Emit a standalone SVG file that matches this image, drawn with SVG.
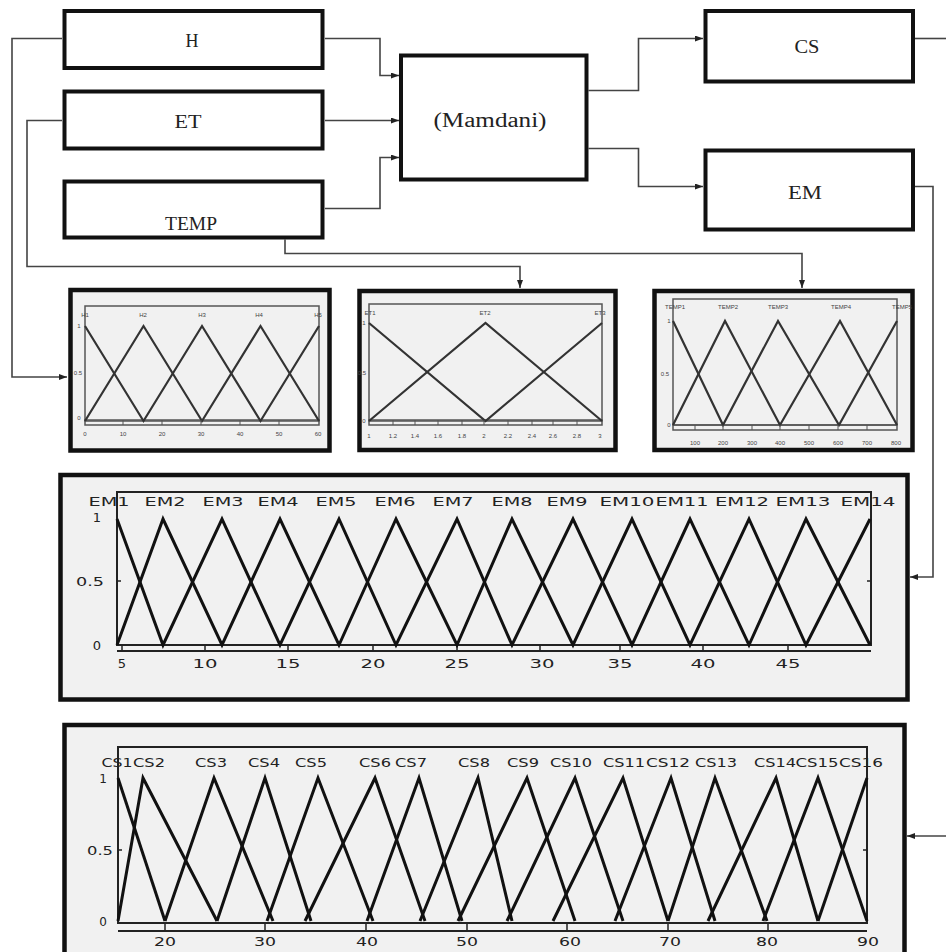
<svg xmlns="http://www.w3.org/2000/svg" width="946" height="952" viewBox="0 0 946 952">
<style>
.box{fill:#fff;stroke:#111;stroke-width:4}
.frame{fill:#f1f1f1;stroke:#111;stroke-width:4.5}
.lbl{font-family:"Liberation Serif",serif;font-size:18px;fill:#222;text-anchor:middle}
.con{fill:none;stroke:#444;stroke-width:1.6}
.plot{fill:none;stroke:#555;stroke-width:1.5}
.plotb{fill:none;stroke:#222;stroke-width:2}
.mf{fill:none;stroke:#333;stroke-width:2.2;stroke-linejoin:miter}
.mfb{fill:none;stroke:#111;stroke-width:3}
.t6{font-family:"Liberation Sans",sans-serif;font-size:6px;fill:#444;text-anchor:middle}
.tk{fill:none;stroke:#555;stroke-width:1}
.tkb{fill:none;stroke:#222;stroke-width:1.5}
.t13{font-family:"DejaVu Sans",sans-serif;font-size:13px;fill:#222;text-anchor:middle}
.t12{font-family:"DejaVu Sans",sans-serif;font-size:12px;fill:#222;text-anchor:middle}
</style>
<defs>
<marker id="arr" markerUnits="userSpaceOnUse" markerWidth="8" markerHeight="6" refX="8" refY="3" orient="auto">
<path d="M0,0 L8,3 L0,6 z" fill="#222"/>
</marker>
</defs>
<rect width="946" height="952" fill="#fff"/>

<g id="connectors">
<path class="con" d="M325,38.5 H380 V75.5 H399" marker-end="url(#arr)"/>
<path class="con" d="M325,120.5 H399" marker-end="url(#arr)"/>
<path class="con" d="M325,208.5 H380 V157.5 H399" marker-end="url(#arr)"/>
<path class="con" d="M588.5,90.5 H638.5 V38.5 H703" marker-end="url(#arr)"/>
<path class="con" d="M588.5,148.5 H638.5 V186.5 H703" marker-end="url(#arr)"/>
<path class="con" d="M915,186.5 H933 V577 H910" marker-end="url(#arr)"/>
<path class="con" d="M915,38.5 H946"/>
<path class="con" d="M946,836 H907" marker-end="url(#arr)"/>
<path class="con" d="M62,38.5 H12 V377 H67" marker-end="url(#arr)"/>
<path class="con" d="M62,120.5 H27 V266.5 H520 V288" marker-end="url(#arr)"/>
<path class="con" d="M285,239.5 V253.5 H802 V288" marker-end="url(#arr)"/>
</g>

<g id="node-H">
<rect class="box" x="64.5" y="11" width="258" height="57"/>
<text class="lbl" x="192" y="47">H</text>
</g>
<g id="node-ET">
<rect class="box" x="64.5" y="91.5" width="258" height="57"/>
<text class="lbl" x="188" y="128" textLength="27" lengthAdjust="spacingAndGlyphs">ET</text>
</g>
<g id="node-TEMP">
<rect class="box" x="64.5" y="181.5" width="258" height="56"/>
<text class="lbl" x="191" y="230" textLength="52" lengthAdjust="spacingAndGlyphs">TEMP</text>
</g>
<g id="node-Mamdani">
<rect class="box" x="401" y="55.5" width="185.5" height="124"/>
<text class="lbl" x="490" y="127" style="font-size:20px" textLength="113" lengthAdjust="spacingAndGlyphs">(Mamdani)</text>
</g>
<g id="node-CS">
<rect class="box" x="705.5" y="11" width="207.5" height="70.5"/>
<text class="lbl" x="807" y="53" textLength="25" lengthAdjust="spacingAndGlyphs">CS</text>
</g>
<g id="node-EM">
<rect class="box" x="705.5" y="150.5" width="207.5" height="79"/>
<text class="lbl" x="805" y="199" textLength="34" lengthAdjust="spacingAndGlyphs">EM</text>
</g>

<g id="chart-H">
<rect class="frame" x="70.5" y="290" width="259" height="160.5"/>
<rect class="plot" x="85" y="306" width="234" height="115"/>
<rect class="plot" x="85" y="420" width="234" height="5"/>
<polyline class="mf" points="85,326 143.5,421 202,326 260.5,421 319,326"/>
<polyline class="mf" points="85,421 143.5,326 202,421 260.5,326 319,421"/>
<path class="tk" d="M123,420v5M162,420v5M201,420v5M240,420v5M279,420v5"/>
<text class="t6" x="85" y="317">H1</text>
<text class="t6" x="143" y="317">H2</text>
<text class="t6" x="202" y="317">H3</text>
<text class="t6" x="259" y="317">H4</text>
<text class="t6" x="318" y="317">H5</text>
<text class="t6" x="79" y="328">1</text>
<text class="t6" x="78" y="375">0.5</text>
<text class="t6" x="79" y="420">0</text>
<text class="t6" x="85" y="436">0</text>
<text class="t6" x="123" y="436">10</text>
<text class="t6" x="162" y="436">20</text>
<text class="t6" x="201" y="436">30</text>
<text class="t6" x="240" y="436">40</text>
<text class="t6" x="279" y="436">50</text>
<text class="t6" x="318" y="436">60</text>
</g>

<g id="chart-ET">
<rect class="frame" x="359.5" y="291" width="256" height="159"/>
<rect class="plot" x="369" y="304" width="233" height="117"/>
<rect class="plot" x="369" y="420" width="233" height="5"/>
<polyline class="mf" points="369,323 485.5,421 602,323"/>
<polyline class="mf" points="369,421 485.5,323 602,421"/>
<path class="tk" d="M393,420v5M415,420v5M438,420v5M462,420v5M484,420v5M508,420v5M532,420v5M553,420v5M577,420v5"/>
<text class="t6" x="370" y="315">ET1</text>
<text class="t6" x="485" y="315">ET2</text>
<text class="t6" x="600" y="315">ET3</text>
<text class="t6" x="364" y="325">1</text>
<text class="t6" x="362" y="375">0.5</text>
<text class="t6" x="364" y="423">0</text>
<text class="t6" x="369" y="438">1</text>
<text class="t6" x="393" y="438">1.2</text>
<text class="t6" x="415" y="438">1.4</text>
<text class="t6" x="438" y="438">1.6</text>
<text class="t6" x="462" y="438">1.8</text>
<text class="t6" x="484" y="438">2</text>
<text class="t6" x="508" y="438">2.2</text>
<text class="t6" x="532" y="438">2.4</text>
<text class="t6" x="553" y="438">2.6</text>
<text class="t6" x="577" y="438">2.8</text>
<text class="t6" x="600" y="438">3</text>
</g>

<g id="chart-TEMP">
<rect class="frame" x="654.5" y="291" width="258" height="159"/>
<rect class="plot" x="673" y="299" width="224" height="126"/>
<rect class="plot" x="673" y="425" width="224" height="5"/>
<polyline class="mf" points="673,321 723,425 778,321 839,425 897,321"/>
<polyline class="mf" points="673,425 725,321 780,425 840,321 897,425"/>
<path class="tk" d="M695,425v5M723,425v5M752,425v5M780,425v5M809,425v5M838,425v5M867,425v5"/>
<text class="t6" x="675" y="309">TEMP1</text>
<text class="t6" x="728" y="309">TEMP2</text>
<text class="t6" x="778" y="309">TEMP3</text>
<text class="t6" x="841" y="309">TEMP4</text>
<text class="t6" x="902" y="309">TEMP5</text>
<text class="t6" x="669" y="323">1</text>
<text class="t6" x="665" y="376">0.5</text>
<text class="t6" x="669" y="427">0</text>
<text class="t6" x="695" y="445">100</text>
<text class="t6" x="723" y="445">200</text>
<text class="t6" x="752" y="445">300</text>
<text class="t6" x="780" y="445">400</text>
<text class="t6" x="809" y="445">500</text>
<text class="t6" x="838" y="445">600</text>
<text class="t6" x="867" y="445">700</text>
<text class="t6" x="896" y="445">800</text>
</g>

<g id="chart-EM">
<rect class="frame" x="60.5" y="475" width="847" height="224.5"/>
<rect class="plotb" x="117" y="492" width="754" height="153"/>
<line class="plotb" x1="117" y1="651" x2="871" y2="651"/>
<path class="tkb" d="M122,645v6M205,645v6M288,645v6M373,645v6M457,645v6M540,645v6M620,645v6M703,645v6M788,645v6M117,581h4M871,581h-4"/>
<polyline class="mfb" points="117,519 163,645 222,519 280,645 339,519 396,645 457,519 512,645 573,519 632,645 690,519 749,645 806,519 870,645"/>
<polyline class="mfb" points="117,645 163,519 222,645 280,519 339,645 396,519 457,645 512,519 573,645 632,519 690,645 749,519 806,645 870,519"/>
<text class="t13" x="109" y="506" textLength="41" lengthAdjust="spacingAndGlyphs">EM1</text>
<text class="t13" x="165" y="506" textLength="41" lengthAdjust="spacingAndGlyphs">EM2</text>
<text class="t13" x="223" y="506" textLength="41" lengthAdjust="spacingAndGlyphs">EM3</text>
<text class="t13" x="278" y="506" textLength="41" lengthAdjust="spacingAndGlyphs">EM4</text>
<text class="t13" x="336" y="506" textLength="41" lengthAdjust="spacingAndGlyphs">EM5</text>
<text class="t13" x="395" y="506" textLength="41" lengthAdjust="spacingAndGlyphs">EM6</text>
<text class="t13" x="453" y="506" textLength="41" lengthAdjust="spacingAndGlyphs">EM7</text>
<text class="t13" x="512" y="506" textLength="41" lengthAdjust="spacingAndGlyphs">EM8</text>
<text class="t13" x="567" y="506" textLength="41" lengthAdjust="spacingAndGlyphs">EM9</text>
<text class="t13" x="627" y="506" textLength="55" lengthAdjust="spacingAndGlyphs">EM10</text>
<text class="t13" x="682" y="506" textLength="53" lengthAdjust="spacingAndGlyphs">EM11</text>
<text class="t13" x="742" y="506" textLength="54" lengthAdjust="spacingAndGlyphs">EM12</text>
<text class="t13" x="803" y="506" textLength="55" lengthAdjust="spacingAndGlyphs">EM13</text>
<text class="t13" x="868" y="506" textLength="55" lengthAdjust="spacingAndGlyphs">EM14</text>
<text class="t13" x="97" y="522">1</text>
<text class="t13" x="90" y="586" textLength="28" lengthAdjust="spacingAndGlyphs">0.5</text>
<text class="t13" x="97" y="650">0</text>
<text class="t13" x="122" y="668">5</text>
<text class="t13" x="205" y="668" textLength="25" lengthAdjust="spacingAndGlyphs">10</text>
<text class="t13" x="288" y="668" textLength="25" lengthAdjust="spacingAndGlyphs">15</text>
<text class="t13" x="373" y="668" textLength="25" lengthAdjust="spacingAndGlyphs">20</text>
<text class="t13" x="457" y="668" textLength="25" lengthAdjust="spacingAndGlyphs">25</text>
<text class="t13" x="542" y="668" textLength="25" lengthAdjust="spacingAndGlyphs">30</text>
<text class="t13" x="620" y="668" textLength="25" lengthAdjust="spacingAndGlyphs">35</text>
<text class="t13" x="703" y="668" textLength="25" lengthAdjust="spacingAndGlyphs">40</text>
<text class="t13" x="788" y="668" textLength="25" lengthAdjust="spacingAndGlyphs">45</text>
</g>

<g id="chart-CS">
<rect class="frame" x="64.5" y="725" width="840" height="240"/>
<rect class="plotb" x="118" y="747" width="749" height="176"/>
<line class="plotb" x1="118" y1="931" x2="867" y2="931"/>
<path class="tkb" d="M165,924v7M265,924v7M366,924v7M467,924v7M567,924v7M668,924v7M768,924v7M118,850h4M867,850h-4"/>
<g class="mfb">
<polyline points="118,778 165,921"/>
<polyline points="118,921 143,778 217,921"/>
<polyline points="165,921 214,778 273,921"/>
<polyline points="217,921 265,778 311,921"/>
<polyline points="267,921 318,778 373,921"/>
<polyline points="305,921 375,778 425,921"/>
<polyline points="367,921 419,778 462,921"/>
<polyline points="420,921 478,778 512,921"/>
<polyline points="458,921 527,778 575,921"/>
<polyline points="507,921 575,778 623,921"/>
<polyline points="553,921 623,778 668,921"/>
<polyline points="615,921 671,778 715,921"/>
<polyline points="668,921 715,778 767,921"/>
<polyline points="708,921 776,778 818,921"/>
<polyline points="763,921 818,778 867,921"/>
<polyline points="818,921 867,778"/>
</g>
<text class="t12" x="117" y="767" textLength="31" lengthAdjust="spacingAndGlyphs">CS1</text>
<text class="t12" x="149" y="767" textLength="32" lengthAdjust="spacingAndGlyphs">CS2</text>
<text class="t12" x="211" y="767" textLength="32" lengthAdjust="spacingAndGlyphs">CS3</text>
<text class="t12" x="264" y="767" textLength="32" lengthAdjust="spacingAndGlyphs">CS4</text>
<text class="t12" x="311" y="767" textLength="32" lengthAdjust="spacingAndGlyphs">CS5</text>
<text class="t12" x="375" y="767" textLength="32" lengthAdjust="spacingAndGlyphs">CS6</text>
<text class="t12" x="411" y="767" textLength="32" lengthAdjust="spacingAndGlyphs">CS7</text>
<text class="t12" x="474" y="767" textLength="32" lengthAdjust="spacingAndGlyphs">CS8</text>
<text class="t12" x="523" y="767" textLength="32" lengthAdjust="spacingAndGlyphs">CS9</text>
<text class="t12" x="571" y="767" textLength="42" lengthAdjust="spacingAndGlyphs">CS10</text>
<text class="t12" x="624" y="767" textLength="42" lengthAdjust="spacingAndGlyphs">CS11</text>
<text class="t12" x="668" y="767" textLength="44" lengthAdjust="spacingAndGlyphs">CS12</text>
<text class="t12" x="716" y="767" textLength="42" lengthAdjust="spacingAndGlyphs">CS13</text>
<text class="t12" x="775" y="767" textLength="42" lengthAdjust="spacingAndGlyphs">CS14</text>
<text class="t12" x="817" y="767" textLength="43" lengthAdjust="spacingAndGlyphs">CS15</text>
<text class="t12" x="861" y="767" textLength="44" lengthAdjust="spacingAndGlyphs">CS16</text>
<text class="t12" x="103" y="783">1</text>
<text class="t12" x="100" y="855" textLength="26" lengthAdjust="spacingAndGlyphs">0.5</text>
<text class="t12" x="103" y="926">0</text>
<text class="t12" x="165" y="946" textLength="22" lengthAdjust="spacingAndGlyphs">20</text>
<text class="t12" x="265" y="946" textLength="22" lengthAdjust="spacingAndGlyphs">30</text>
<text class="t12" x="367" y="946" textLength="22" lengthAdjust="spacingAndGlyphs">40</text>
<text class="t12" x="467" y="946" textLength="22" lengthAdjust="spacingAndGlyphs">50</text>
<text class="t12" x="570" y="946" textLength="22" lengthAdjust="spacingAndGlyphs">60</text>
<text class="t12" x="670" y="946" textLength="22" lengthAdjust="spacingAndGlyphs">70</text>
<text class="t12" x="767" y="946" textLength="22" lengthAdjust="spacingAndGlyphs">80</text>
<text class="t12" x="868" y="946" textLength="22" lengthAdjust="spacingAndGlyphs">90</text>
</g>
</svg>
